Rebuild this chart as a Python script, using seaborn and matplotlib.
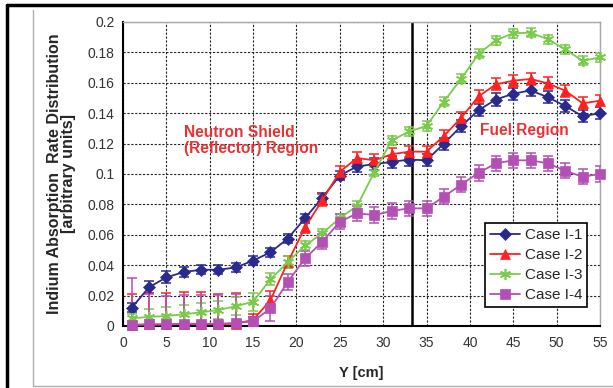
import matplotlib
matplotlib.use("Agg")
import matplotlib.pyplot as plt
from matplotlib.lines import Line2D
import pandas as pd
import seaborn as sns

# Data
y_pos = [1, 3, 5, 7, 9, 11, 13, 15, 17, 19, 21, 23, 25, 27,
         29, 31, 33, 35, 37, 39, 41, 43, 45, 47, 49, 51, 53, 55]

case_1 = [0.012, 0.0255, 0.032, 0.0355, 0.037, 0.037, 0.0385, 0.043, 0.0485, 0.0575,
          0.071, 0.0845, 0.099, 0.105, 0.1065, 0.108, 0.1095, 0.109, 0.12, 0.1315,
          0.142, 0.149, 0.1528, 0.155, 0.1505, 0.1447, 0.138, 0.14]
case_2 = [0.0008, 0.001, 0.001, 0.0012, 0.0012, 0.0012, 0.0015, 0.004, 0.017, 0.042,
          0.065, 0.083, 0.1015, 0.1105, 0.109, 0.113, 0.1147, 0.1147, 0.125, 0.137,
          0.151, 0.159, 0.1614, 0.1625, 0.1596, 0.1548, 0.1465, 0.1482]
case_3 = [0.005, 0.006, 0.0066, 0.0077, 0.009, 0.0105, 0.013, 0.016, 0.0307, 0.042,
          0.053, 0.061, 0.071, 0.079, 0.1015, 0.1222, 0.128, 0.1316, 0.1476, 0.1626,
          0.179, 0.188, 0.1926, 0.193, 0.1886, 0.182, 0.1745, 0.1767]
case_4 = [0.0007, 0.001, 0.001, 0.0015, 0.0015, 0.0015, 0.002, 0.003, 0.0116, 0.029,
          0.0445, 0.0555, 0.0686, 0.0741, 0.073, 0.0757, 0.0774, 0.0774, 0.0851, 0.093,
          0.1007, 0.107, 0.109, 0.109, 0.107, 0.1021, 0.0982, 0.1]

err_1 = [0.003, 0.004, 0.004, 0.003, 0.003, 0.003, 0.003, 0.003, 0.003, 0.003,
         0.003, 0.003, 0.003, 0.004, 0.004, 0.004, 0.004, 0.004, 0.004, 0.004,
         0.004, 0.004, 0.004, 0.004, 0.004, 0.004, 0.004, 0.004]
err_2 = [0.02, 0.021, 0.021, 0.021, 0.021, 0.02, 0.02, 0.004, 0.006, 0.004,
         0.004, 0.004, 0.004, 0.004, 0.004, 0.004, 0.004, 0.004, 0.004, 0.004,
         0.004, 0.004, 0.004, 0.004, 0.004, 0.004, 0.004, 0.004]
err_3 = [0.003, 0.005, 0.006, 0.006, 0.006, 0.006, 0.006, 0.006, 0.004, 0.004,
         0.003, 0.003, 0.003, 0.003, 0.003, 0.003, 0.003, 0.003, 0.003, 0.003,
         0.003, 0.003, 0.003, 0.003, 0.003, 0.003, 0.003, 0.003]
err_4 = [0.031, 0.02, 0.019, 0.019, 0.019, 0.019, 0.019, 0.003, 0.008, 0.005,
         0.005, 0.005, 0.005, 0.005, 0.005, 0.005, 0.005, 0.005, 0.005, 0.005,
         0.005, 0.005, 0.005, 0.005, 0.005, 0.005, 0.005, 0.005]

labels = ["Case I-1", "Case I-2", "Case I-3", "Case I-4"]
x_ticks = [0, 5, 10, 15, 20, 25, 30, 35, 40, 45, 50, 55]
y_ticks = [0, 0.02, 0.04, 0.06, 0.08, 0.1, 0.12, 0.14, 0.16, 0.18, 0.2]
y_tick_labels = ["0", "0.02", "0.04", "0.06", "0.08", "0.1", "0.12", "0.14", "0.16", "0.18", "0.2"]
boundary = 33.3

series = [case_1, case_2, case_3, case_4]
errors = [err_1, err_2, err_3, err_4]
colors = ["#2a2a8e", "#ff2020", "#7acb4a", "#b44fb6"]
markers = ["D", "^", (6, 2, 0), "s"]
msizes = [6, 7, 8, 7]

sns.set_style("white")
plt.rcParams["font.family"] = ["Liberation Sans", "DejaVu Sans"]

fig = plt.figure(figsize=(6.13, 3.88), dpi=100)
ax = fig.add_axes([0.2007, 0.1598, 0.778, 0.7835])

for lab, vals, err, c, m, ms in zip(labels, series, errors, colors, markers, msizes):
    df = pd.DataFrame({"Y": y_pos, "v": vals})
    ax.errorbar(y_pos, vals, yerr=err, fmt="none", ecolor=c, elinewidth=1.1,
                capsize=3.5, capthick=1.1, zorder=3)
    sns.lineplot(data=df, x="Y", y="v", ax=ax, color=c, marker=m, markersize=ms,
                 markeredgecolor=c, markeredgewidth=1.2 if m == (6, 2, 0) else 0.5,
                 linewidth=1.3, label=lab, clip_on=False, zorder=4)

ax.axvline(boundary, color="black", linewidth=1.8, zorder=2)

ax.set_xlim(0, 55)
ax.set_ylim(0, 0.2)
ax.set_xticks(x_ticks)
ax.set_yticks(y_ticks)
ax.set_yticklabels(y_tick_labels)
ax.tick_params(axis="both", direction="out", length=3, width=1, color="black",
               labelsize=10, labelcolor="#333333", pad=3)
ax.tick_params(axis="x", pad=4)
ax.grid(True, color="#222222", linestyle=(0, (2, 1.5)), linewidth=0.8)
ax.set_axisbelow(True)

for side in ["top", "right"]:
    ax.spines[side].set_color("#a8a8a8")
    ax.spines[side].set_linewidth(1)
for side in ["left", "bottom"]:
    ax.spines[side].set_color("black")
    ax.spines[side].set_linewidth(1.5)

ax.set_xlabel("Y [cm]", fontsize=10.5, fontweight="bold", labelpad=12)
ax.set_ylabel("Indium Absorption  Rate Distribution\n[arbitrary units]",
              fontsize=11.5, fontweight="bold", labelpad=8, linespacing=0.95)

ax.text(7.0, 0.122, "Neutron Shield\n(Reflector) Region", color="#e93333",
        fontsize=11.2, fontweight="bold", va="center", ha="left", linespacing=1.1)
ax.text(41.2, 0.1285, "Fuel Region", color="#e93333",
        fontsize=11.2, fontweight="bold", va="center", ha="left")

leg = ax.legend(loc="lower right", bbox_to_anchor=(0.973, 0.0625), borderaxespad=0,
                fontsize=11, frameon=True, fancybox=False, edgecolor="black",
                framealpha=1, borderpad=0.3, labelspacing=0.4, handlelength=2.0,
                handletextpad=0.3)
leg.get_frame().set_linewidth(1.2)

# outer frame lines of the original figure
fig.add_artist(Line2D([7 / 613, 7 / 613], [0, 1 - 5 / 388], color="black", linewidth=2.5))
fig.add_artist(Line2D([7 / 613, 1], [1 - 5 / 388, 1 - 5 / 388], color="black", linewidth=2.5))
fig.add_artist(Line2D([33 / 613, 33 / 613], [2 / 388, 1 - 10 / 388], color="#b0b0b0", linewidth=1))
fig.add_artist(Line2D([33 / 613, 1], [2 / 388, 2 / 388], color="#b0b0b0", linewidth=1))

fig.savefig("out.png", dpi=100)
